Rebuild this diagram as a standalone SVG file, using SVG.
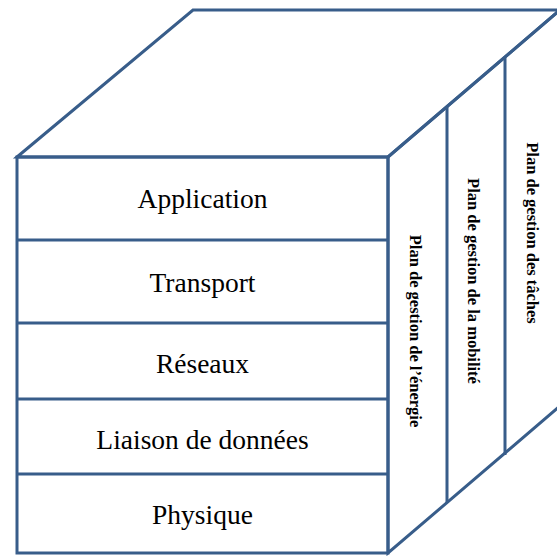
<svg xmlns="http://www.w3.org/2000/svg" width="557" height="556" viewBox="0 0 557 556">
<style>
.ln{fill:none;stroke:#385d8a;stroke-width:3;stroke-linejoin:miter}
.lay{font-family:"Liberation Serif","Times New Roman",serif;font-size:27.5px;fill:#000;text-anchor:middle}
.pl{font-family:"Liberation Serif","Times New Roman",serif;font-size:16.5px;font-weight:bold;fill:#000;text-anchor:middle;dominant-baseline:central}
</style>
<rect width="557" height="556" fill="#fff"/>
<g id="cube">
<polygon class="ln" points="17,157 193,10 560,10 388,157"/>
<polygon class="ln" points="388,157 560,10 560,406 388,553"/>
<rect class="ln" x="17" y="157" width="371" height="396"/>
</g>
<g id="connectors">
<line class="ln" x1="17" y1="240" x2="388" y2="240"/>
<line class="ln" x1="17" y1="323" x2="388" y2="323"/>
<line class="ln" x1="17" y1="399" x2="388" y2="399"/>
<line class="ln" x1="17" y1="474" x2="388" y2="474"/>
<line class="ln" x1="447" y1="107" x2="447" y2="503"/>
<line class="ln" x1="505" y1="58" x2="505" y2="455"/>
</g>
<g id="application"><text class="lay" x="202.5" y="208">Application</text></g>
<g id="transport"><text class="lay" x="202.5" y="292">Transport</text></g>
<g id="reseaux"><text class="lay" x="202.5" y="373">Réseaux</text></g>
<g id="liaison"><text class="lay" x="202.5" y="449">Liaison de données</text></g>
<g id="physique"><text class="lay" x="202.5" y="524">Physique</text></g>
<g id="energie"><text class="pl" transform="translate(415.5,331) rotate(90)">Plan de gestion de l’énergie</text></g>
<g id="mobilite"><text class="pl" transform="translate(473,281) rotate(90)">Plan de gestion de la mobilité</text></g>
<g id="taches"><text class="pl" transform="translate(532,233) rotate(90)">Plan de gestion des tâches</text></g>
</svg>
